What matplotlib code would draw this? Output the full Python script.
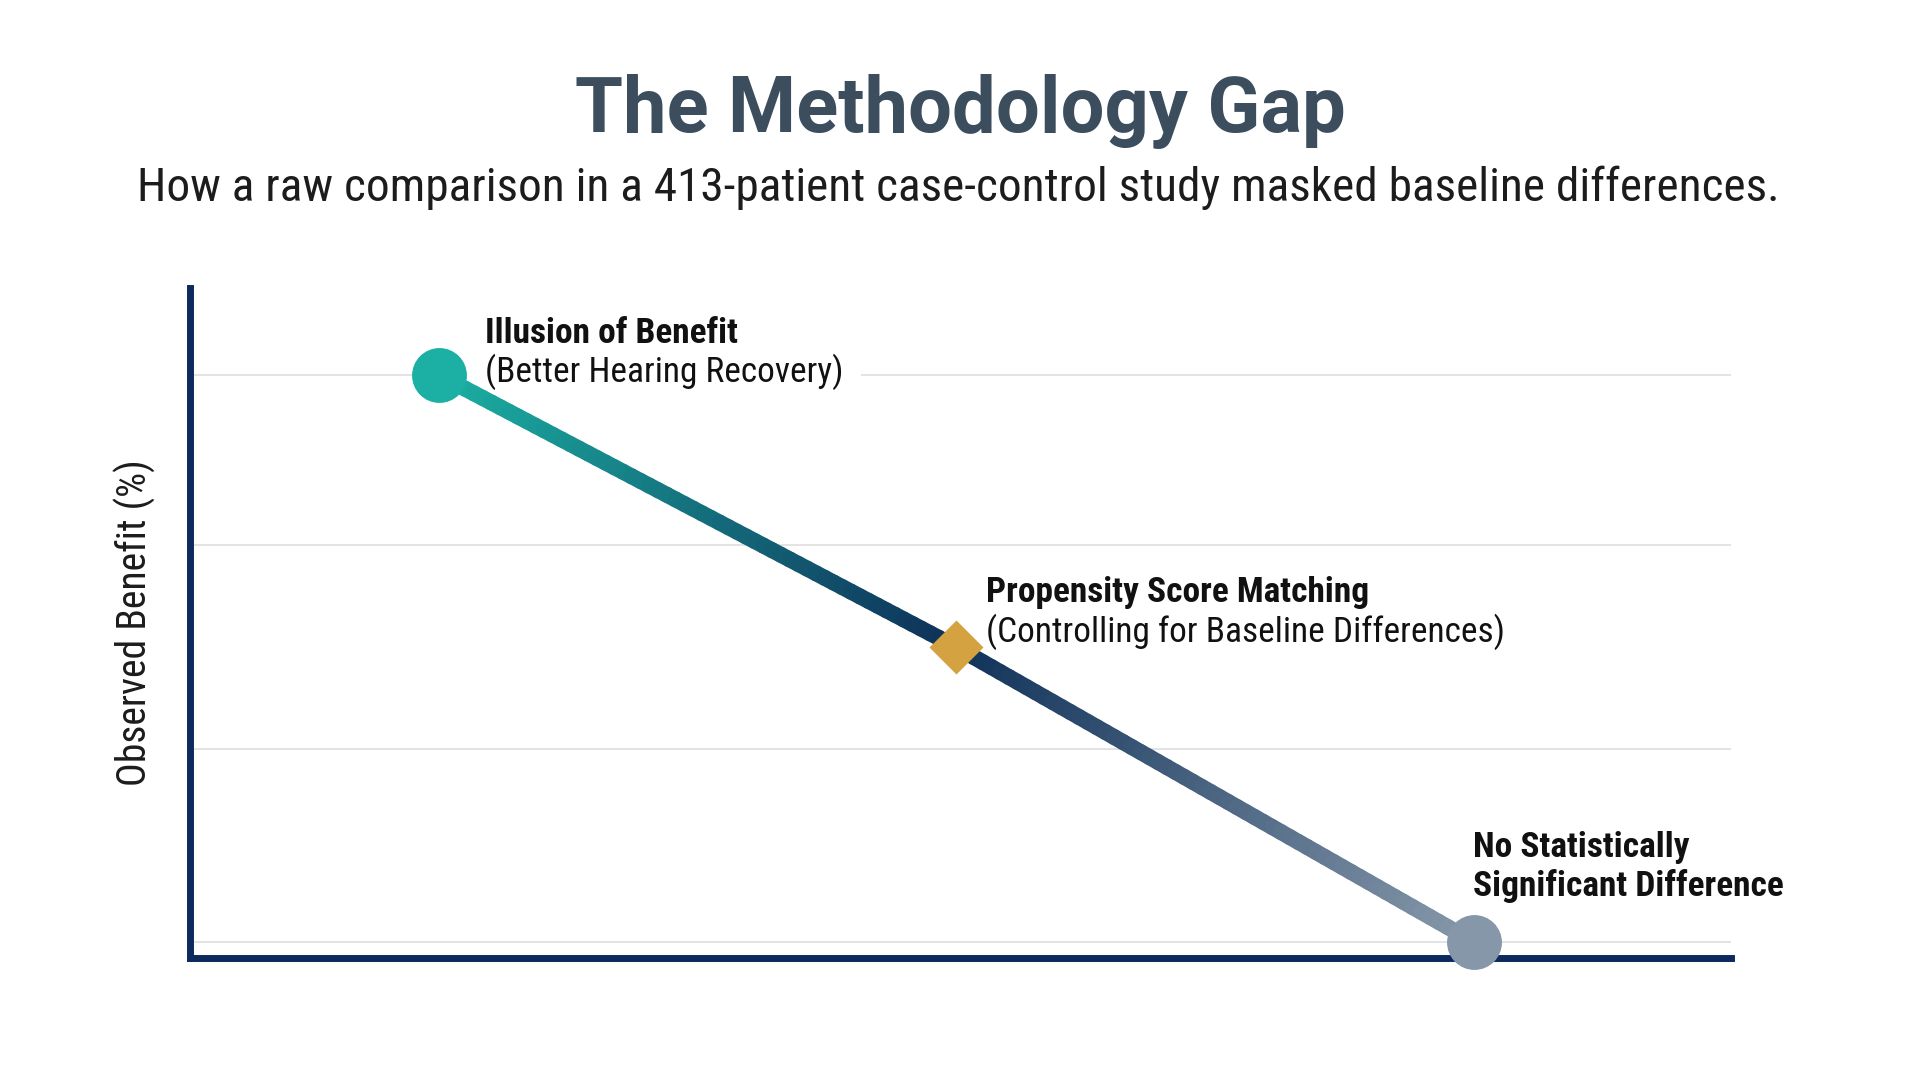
import numpy as np
import matplotlib
matplotlib.use('Agg')
import matplotlib.pyplot as plt
import matplotlib.font_manager as fm
from matplotlib.collections import LineCollection
from matplotlib.colors import LinearSegmentedColormap

etapas = ['Raw comparison', 'Propensity score matching', 'Adjusted result']
pos_x = [0, 1, 2]
beneficio = [30.0, 15.6, 0.0]
lineas_grid = [0, 10.2, 21.0, 30.0]

titulo = 'The Methodology Gap'
subtitulo = 'How a raw comparison in a 413-patient case-control study masked baseline differences.'
etiqueta_y = 'Observed Benefit (%)'
etiquetas = [
    ('Illusion of Benefit', '(Better Hearing Recovery)', False),
    ('Propensity Score Matching', '(Controlling for Baseline Differences)', False),
    ('No Statistically', 'Significant Difference', True),
]

# fuentes: una condensada si existe
nombres = {f.name for f in fm.fontManager.ttflist}
cond = next((n for n in ['Roboto Condensed', 'Liberation Sans Narrow', 'Roboto'] if n in nombres), 'DejaVu Sans')
es_cond = cond != 'Roboto'
k = 1.0 if es_cond else 0.86

navy = '#0d2a5c'
teal = '#1bb0a3'
gris = '#8597a9'
oro = '#d4a241'

fig = plt.figure(figsize=(19.2, 10.72), dpi=100)
fig.patch.set_facecolor('white')
ax = fig.add_axes([190/1920, 114/1072, (1731-190)/1920, (958-288)/1072])

ax.set_xlim(-0.481, 2.497)
ax.set_ylim(-0.85, 34.6)
for lado in ['top', 'right']:
    ax.spines[lado].set_visible(False)
for lado in ['left', 'bottom']:
    ax.spines[lado].set_color(navy)
    ax.spines[lado].set_linewidth(5)
ax.set_yticks(lineas_grid)
ax.set_xticks([])
ax.tick_params(axis='y', length=0, labelleft=False)
ax.yaxis.grid(True, color='#e3e3e3', linewidth=1.4)
ax.set_axisbelow(True)

# linea con degradado entre los puntos
cmap = LinearSegmentedColormap.from_list('metodo', [teal, '#0e3058', gris])
tramos = []
for i in range(len(pos_x) - 1):
    t = np.linspace(0, 1, 60)
    xs = pos_x[i] + (pos_x[i+1] - pos_x[i]) * t
    ys = beneficio[i] + (beneficio[i+1] - beneficio[i]) * t
    pts = np.column_stack([xs, ys])
    tramos += [pts[j:j+2] for j in range(len(pts) - 1)]
valores = np.linspace(0, 1, len(tramos))
lc = LineCollection(tramos, cmap=cmap, linewidths=11.5, capstyle='round', zorder=3)
lc.set_array(valores)
ax.add_collection(lc)

ax.plot(pos_x[0], beneficio[0], 'o', ms=39.5, color=teal, mec='none', zorder=4, clip_on=False)
ax.plot(pos_x[1], beneficio[1], 'D', ms=27, color=oro, mec='none', zorder=4, clip_on=False)
ax.plot(pos_x[2], beneficio[2], 'o', ms=39.5, color=gris, mec='none', zorder=4, clip_on=False)

# etiquetas de cada punto (desplazamientos en pixeles)
desp = [(46, 32, -7), (30, 45, 5), (-1, 85, 46)]
for i, (l1, l2, negrita2) in enumerate(etiquetas):
    dx, d1, d2 = desp[i]
    ax.annotate(l1, (pos_x[i], beneficio[i]), xytext=(dx, d1), textcoords='offset pixels',
                fontsize=25.5*k, fontweight='bold', family=cond, color='#111111',
                ha='left', va='baseline', zorder=5, annotation_clip=False)
    caja = dict(boxstyle='square,pad=0.5', fc='white', ec='none') if i == 0 else None
    ax.annotate(l2, (pos_x[i], beneficio[i]), xytext=(dx, d2), textcoords='offset pixels',
                fontsize=25.5*k, fontweight='bold' if negrita2 else 'normal', family=cond,
                color='#111111', ha='left', va='baseline', zorder=2, bbox=caja,
                annotation_clip=False)

fig.text(960/1920, 1 - 132/1072, titulo, ha='center', va='baseline', fontsize=56,
         fontweight='bold', family='Roboto', color='#3c4d5e')
fig.text(958/1920, 1 - 201/1072, subtitulo, ha='center', va='baseline', fontsize=34*k,
         family=cond, color='#1c1c1c')
fig.text(135/1920, 1 - 623/1072, etiqueta_y, ha='center', va='center', rotation=90,
         fontsize=28.5*k, family=cond, color='#1c1c1c')

fig.savefig('out.png', dpi=100, facecolor='white')
